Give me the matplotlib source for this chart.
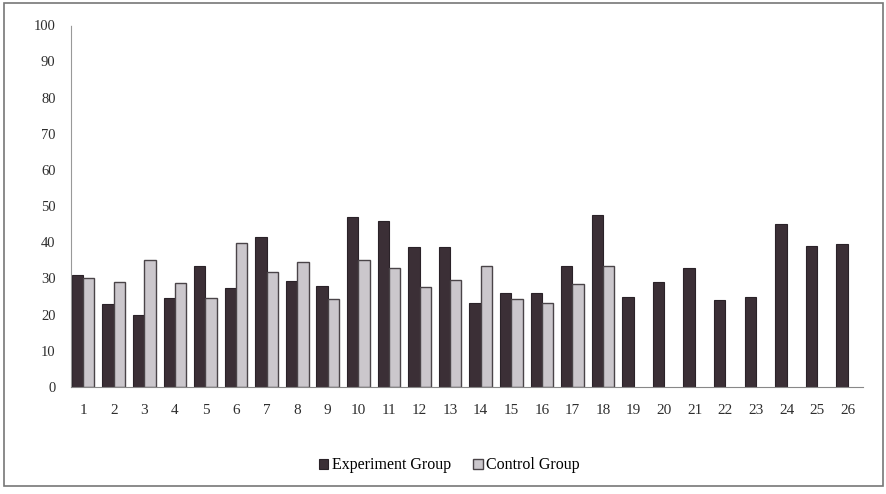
import matplotlib
matplotlib.use("Agg")
import matplotlib.pyplot as plt
from matplotlib.patches import Rectangle
import numpy as np

categories = [str(i) for i in range(1, 27)]
experiment = [31, 23, 20, 24.7, 33.5, 27.5, 41.5, 29.3, 28, 47, 46, 38.8, 38.6,
              23.3, 26, 26, 33.5, 47.5, 25, 29, 33, 24, 25, 45, 39, 39.5]
control = [30, 29, 35, 28.7, 24.7, 39.8, 31.8, 34.6, 24.3, 35, 33, 27.7, 29.6,
           33.5, 24.3, 23.3, 28.5, 33.5]
y_ticks = [0, 10, 20, 30, 40, 50, 60, 70, 80, 90, 100]

plt.rcParams['font.family'] = ['Liberation Serif', 'DejaVu Serif']

fig = plt.figure(figsize=(8.86, 4.94), dpi=100)
ax = fig.add_axes([0.080, 0.2166, 0.894, 0.7324])

w = 0.37
x_e = np.arange(len(experiment))
x_c = np.arange(len(control))
dark = '#3b2f36'
light = '#cbc7cc'
ax.bar(x_e - w / 2, experiment, width=w, color=dark, edgecolor='#2a2228',
       linewidth=0.8, label='Experiment Group')
ax.bar(x_c + w / 2, control, width=w, color=light, edgecolor='#4a4448',
       linewidth=1.0, label='Control Group')

ax.set_xlim(-0.4, 25.5)
ax.set_ylim(0, 100)
ax.set_yticks(y_ticks)
ax.set_yticklabels([str(t) for t in y_ticks], fontsize=10.5, color='#2e2e2e')
ax.set_xticks(np.arange(len(categories)))
ax.set_xticklabels(categories, fontsize=11, color='#2e2e2e')
ax.tick_params(axis='both', length=0)
ax.tick_params(axis='y', pad=11)
ax.tick_params(axis='x', pad=12)
for s in ['top', 'right']:
    ax.spines[s].set_visible(False)
ax.spines['left'].set_color('#999999')
ax.spines['left'].set_linestyle((0, (1, 1)))
ax.spines['left'].set_linewidth(0.8)
ax.spines['bottom'].set_color('#888888')
ax.spines['bottom'].set_linewidth(0.8)

handles, labels = ax.get_legend_handles_labels()
fig.legend(handles, labels, loc='center', bbox_to_anchor=(0.507, 0.058),
           ncol=2, frameon=False, fontsize=11.5, handlelength=0.6,
           handleheight=0.6, handletextpad=0.2, columnspacing=1.4)

fig.patches.append(Rectangle((0.005, 0.016), 0.992, 0.977, transform=fig.transFigure,
                             fill=False, edgecolor='#777777', linewidth=1.2))

fig.savefig('out.png', dpi=100)
